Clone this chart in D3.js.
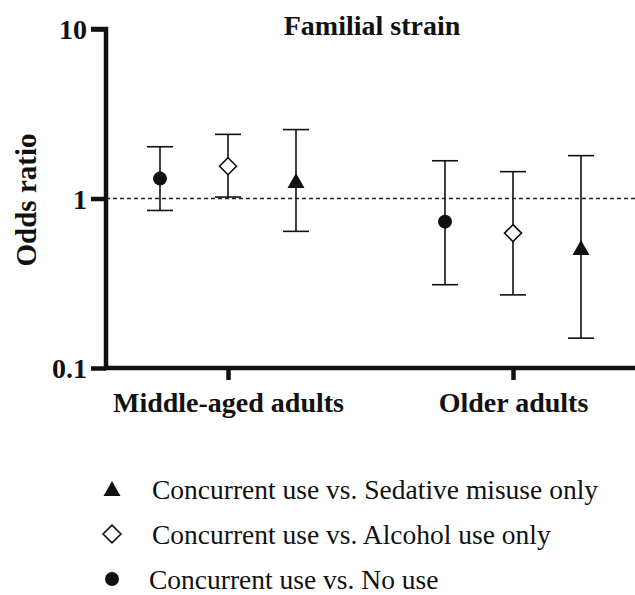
<!DOCTYPE html>
<html>
<head>
<meta charset="utf-8">
<script src="https://cdn.jsdelivr.net/npm/d3@7"></script>
<style>
  body { margin: 0; background: #fff; }
</style>
</head>
<body>
<div id="chart"></div>
<script>
// data
const groups = ["Middle-aged adults", "Older adults"];
const comparisons = ["No use", "Alcohol use only", "Sedative misuse only"];
const symbols = ["circle", "diamond", "triangle"];
const oddsRatio = [[1.31, 1.55, 1.27], [0.73, 0.625, 0.51]];
const ciLow = [[0.85, 1.02, 0.64], [0.31, 0.27, 0.15]];
const ciHigh = [[2.02, 2.39, 2.55], [1.67, 1.44, 1.79]];
const yTicks = [0.1, 1, 10];
const legendOrder = [2, 1, 0];

const font = '"Liberation Serif", "Times New Roman", serif';
const ink = "#111";

const width = 635, height = 595;
const svg = d3.select("#chart").append("svg")
  .attr("width", width).attr("height", height);

const plotLeft = 106, plotRight = 640, plotTop = 29, plotBottom = 368;

// Escalas
const x = d3.scalePoint().domain(groups).range([228, 513]);
const offset = d3.scalePoint().domain(comparisons).range([-68, 68]);
const y = d3.scaleLog().domain([0.1, 10]).range([plotBottom, plotTop]);

// reference line at 1
svg.append("line")
  .attr("x1", plotLeft).attr("x2", width)
  .attr("y1", y(1)).attr("y2", y(1))
  .attr("stroke", "#222").attr("stroke-width", 1.3)
  .attr("stroke-dasharray", "4,3");

// Eixo Y
const yAxis = svg.append("g")
  .attr("transform", `translate(${plotLeft},0)`)
  .call(d3.axisLeft(y).tickValues(yTicks).tickFormat(d3.format("")).tickSize(15).tickPadding(4));
yAxis.select(".domain").attr("stroke", ink).attr("stroke-width", 4.5)
  .attr("d", `M-15,${plotTop}H0V${plotBottom}`);
yAxis.selectAll(".tick line").attr("stroke", ink).attr("stroke-width", 4.5);
yAxis.selectAll(".tick text")
  .style("font-family", font).style("font-size", "28px").style("font-weight", "bold")
  .attr("fill", ink).attr("dy", "0.35em");

// Eixo X
const xAxis = svg.append("g")
  .attr("transform", `translate(0,${plotBottom})`)
  .call(d3.axisBottom(x).tickSize(12).tickPadding(12));
xAxis.select(".domain").attr("stroke", ink).attr("stroke-width", 4.5)
  .attr("d", `M${plotLeft},0H${plotRight}`);
xAxis.selectAll(".tick line").attr("stroke", ink).attr("stroke-width", 4.5);
xAxis.selectAll(".tick text")
  .style("font-family", font).style("font-size", "28px").style("font-weight", "bold")
  .attr("fill", ink);

svg.append("text")
  .attr("transform", `translate(26,200) rotate(-90)`)
  .attr("text-anchor", "middle")
  .attr("dy", "0.35em")
  .attr("fill", ink)
  .style("font-family", font).style("font-size", "29px").style("font-weight", "bold")
  .text("Odds ratio");

svg.append("text")
  .attr("x", 372).attr("y", 35)
  .attr("text-anchor", "middle")
  .attr("fill", ink)
  .style("font-family", font).style("font-size", "28px").style("font-weight", "bold")
  .text("Familial strain");

// points
const rows = [];
groups.forEach((g, gi) => comparisons.forEach((c, ci) => rows.push({
  group: g, comp: c, sym: symbols[ci],
  or: oddsRatio[gi][ci], lo: ciLow[gi][ci], hi: ciHigh[gi][ci]
})));

function marker(sel, sym, k) {
  if (sym === "circle") {
    sel.append("circle").attr("r", 7 * k).attr("fill", ink);
  } else if (sym === "diamond") {
    sel.append("path").attr("d", d3.line()([[0, -8.5 * k], [8.5 * k, 0], [0, 8.5 * k], [-8.5 * k, 0]]) + "Z")
      .attr("fill", "#fff").attr("stroke", ink).attr("stroke-width", 1.6);
  } else {
    sel.append("path").attr("d", d3.line()([[0, -8 * k], [8.5 * k, 7 * k], [-8.5 * k, 7 * k]]) + "Z")
      .attr("fill", ink);
  }
}

const pt = svg.selectAll(".pt")
  .data(rows)
  .enter().append("g")
  .attr("class", "pt")
  .attr("transform", d => `translate(${x(d.group) + offset(d.comp)},0)`);

pt.append("line")
  .attr("y1", d => y(d.lo)).attr("y2", d => y(d.hi))
  .attr("stroke", ink).attr("stroke-width", 1.6);
pt.append("line")
  .attr("x1", -13).attr("x2", 13)
  .attr("y1", d => y(d.hi)).attr("y2", d => y(d.hi))
  .attr("stroke", ink).attr("stroke-width", 1.6);
pt.append("line")
  .attr("x1", -13).attr("x2", 13)
  .attr("y1", d => y(d.lo)).attr("y2", d => y(d.lo))
  .attr("stroke", ink).attr("stroke-width", 1.6);
pt.each(function(d) {
  const m = d3.select(this).append("g").attr("transform", `translate(0,${y(d.or)})`);
  marker(m, d.sym, 1);
});

// legend
const legend = svg.selectAll(".legend")
  .data(legendOrder)
  .enter().append("g")
  .attr("class", "legend")
  .attr("transform", (d, i) => `translate(112,${489 + i * 45})`);
legend.each(function(ci) { marker(d3.select(this), symbols[ci], ci === 1 ? 1.05 : 1); });
legend.append("text")
  .attr("x", (ci) => ci === 0 ? 37 : 40)
  .attr("dy", "0.35em")
  .attr("fill", ink)
  .style("font-family", font).style("font-size", "27.5px")
  .text(ci => "Concurrent use vs. " + comparisons[ci]);
</script>
</body>
</html>
